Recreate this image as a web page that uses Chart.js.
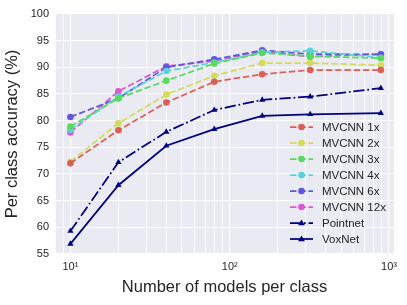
<!DOCTYPE html>
<html>
<head>
<meta charset="utf-8">
<script src="https://cdn.jsdelivr.net/npm/chart.js@4.4.1/dist/chart.umd.min.js"></script>
<style>
  html, body { margin: 0; padding: 0; background: #fff; }
  #wrap { width: 407px; height: 305px; }
</style>
</head>
<body>
<div id="wrap"><canvas id="chart" width="407" height="305"></canvas></div>
<script>
// models per class (x) and per class accuracy (%) for each method
const modelsPerClass = [10, 20, 40, 80, 160, 320, 889];
const mvcnn1x  = [72.0, 78.2, 83.4, 87.3, 88.7, 89.5, 89.5];
const mvcnn2x  = [72.3, 79.5, 84.9, 88.4, 90.8, 90.8, 90.4];
const mvcnn3x  = [78.9, 84.2, 87.5, 90.7, 92.7, 92.1, 91.7];
const mvcnn4x  = [78.3, 84.5, 89.3, 90.9, 92.8, 93.1, 91.8];
const mvcnn6x  = [80.7, 84.2, 90.0, 91.5, 93.2, 92.5, 92.4];
const mvcnn12x = [77.8, 85.5, 90.2, 91.2, 93.0, 92.0, 92.5];
const pointnet = [59.3, 72.2, 77.9, 82.0, 83.9, 84.5, 86.1];
const voxnet   = [56.9, 67.9, 75.3, 78.4, 80.9, 81.2, 81.4];

const seriesNames = ['MVCNN 1x', 'MVCNN 2x', 'MVCNN 3x', 'MVCNN 4x', 'MVCNN 6x', 'MVCNN 12x', 'Pointnet', 'VoxNet'];
const yTicks = [55, 60, 65, 70, 75, 80, 85, 90, 95, 100];
const xMajorTicks = [10, 100, 1000];

const FONT = '"Liberation Sans", Arial, sans-serif';
const TEXT = '#262626';
const lw = 1.75;
const dashed = [3.7 * lw, 1.6 * lw];
const dashDot = [6.4 * lw, 1.6 * lw, 1 * lw, 1.6 * lw];

function pts(arr) {
  return arr.map((v, i) => ({ x: modelsPerClass[i], y: v }));
}

function mvcnn(label, values, color) {
  return {
    label: label, data: pts(values),
    borderColor: color, backgroundColor: color,
    borderWidth: lw, borderDash: dashed,
    pointStyle: 'circle', pointRadius: 3.3, pointBorderWidth: 0,
    tension: 0
  };
}
function navy(label, values, dash) {
  return {
    label: label, data: pts(values),
    borderColor: '#000080', backgroundColor: '#000080',
    borderWidth: lw, borderDash: dash,
    pointStyle: 'triangle', pointRadius: 3.6, pointBorderWidth: 0,
    tension: 0
  };
}

const datasets = [
  mvcnn(seriesNames[0], mvcnn1x, '#db5f57'),
  mvcnn(seriesNames[1], mvcnn2x, '#d3db57'),
  mvcnn(seriesNames[2], mvcnn3x, '#57db5f'),
  mvcnn(seriesNames[3], mvcnn4x, '#57d3db'),
  mvcnn(seriesNames[4], mvcnn6x, '#5f57db'),
  mvcnn(seriesNames[5], mvcnn12x, '#db57d3'),
  navy(seriesNames[6], pointnet, dashDot),
  navy(seriesNames[7], voxnet, [])
];

// gray seaborn-like background behind the plot area
const bgPlugin = {
  id: 'bg',
  beforeDraw(chart) {
    const a = chart.chartArea, ctx = chart.ctx;
    ctx.save();
    ctx.fillStyle = '#eaeaf2';
    ctx.fillRect(a.left, a.top, a.right - a.left, a.bottom - a.top);
    ctx.restore();
  }
};

// legend inside the plot, no frame
const legendPlugin = {
  id: 'inLegend',
  afterDatasetsDraw(chart) {
    const ctx = chart.ctx;
    const x0 = 290, x1 = 313, tx = 322;
    let y = 127;
    ctx.save();
    chart.data.datasets.forEach(ds => {
      ctx.strokeStyle = ds.borderColor;
      ctx.lineWidth = ds.borderWidth;
      ctx.setLineDash(ds.borderDash);
      ctx.beginPath();
      ctx.moveTo(x0, y);
      ctx.lineTo(x1, y);
      ctx.stroke();
      ctx.setLineDash([]);
      ctx.fillStyle = ds.backgroundColor;
      const cx = (x0 + x1) / 2;
      if (ds.pointStyle === 'circle') {
        ctx.beginPath();
        ctx.arc(cx, y, ds.pointRadius, 0, Math.PI * 2);
        ctx.fill();
      } else {
        const r = ds.pointRadius;
        ctx.beginPath();
        ctx.moveTo(cx, y - r);
        ctx.lineTo(cx + r * 0.95, y + r * 0.6);
        ctx.lineTo(cx - r * 0.95, y + r * 0.6);
        ctx.closePath();
        ctx.fill();
      }
      ctx.fillStyle = TEXT;
      ctx.font = '11.5px ' + FONT;
      ctx.textBaseline = 'middle';
      ctx.textAlign = 'left';
      ctx.fillText(ds.label, tx, y + 0.5);
      y += 16;
    });
    ctx.restore();
  }
};

const sup = { 1: '\u00b9', 2: '\u00b2', 3: '\u00b3' };

new Chart(document.getElementById('chart').getContext('2d'), {
  type: 'line',
  data: { datasets: datasets },
  plugins: [bgPlugin, legendPlugin],
  options: {
    responsive: false,
    animation: false,
    layout: { padding: { left: 0, top: 14, right: 13, bottom: 0 } },
    plugins: { legend: { display: false }, tooltip: { enabled: false } },
    scales: {
      x: {
        type: 'logarithmic',
        min: 8, max: 1075,
        afterFit(scale) { scale.height = 51; },
        afterBuildTicks(scale) {
          const t = [];
          for (let d = 1; d <= 1000; d *= 10) {
            for (let m = 1; m <= 9; m++) {
              const v = m * d;
              if (v >= 8 && v <= 1000) t.push({ value: v });
            }
          }
          scale.ticks = t;
        },
        grid: {
          color: '#ffffff',
          lineWidth: ctx => (ctx.tick && xMajorTicks.includes(ctx.tick.value)) ? 1.1 : 0.8,
          drawTicks: false
        },
        border: { display: false },
        ticks: {
          autoSkip: false, maxRotation: 0, padding: 6,
          color: TEXT, font: { family: FONT, size: 11 },
          callback: v => xMajorTicks.includes(v) ? '10' + sup[Math.round(Math.log10(v))] : ''
        },
        title: {
          display: true, text: 'Number of models per class', color: TEXT,
          font: { family: FONT, size: 16.5, lineHeight: 1.2 },
          padding: { top: 0, bottom: 8 }
        }
      },
      y: {
        min: 55, max: 100,
        afterFit(scale) { scale.width = 55; },
        afterBuildTicks(scale) { scale.ticks = yTicks.map(v => ({ value: v })); },
        grid: { color: '#ffffff', lineWidth: 1.1, drawTicks: false },
        border: { display: false },
        ticks: { padding: 6, color: TEXT, font: { family: FONT, size: 11 } },
        title: {
          display: true, text: 'Per class accuracy (%)', color: TEXT,
          font: { family: FONT, size: 16.5, lineHeight: 1.2 },
          padding: { top: 3, bottom: 0 }
        }
      }
    }
  }
});
</script>
</body>
</html>
